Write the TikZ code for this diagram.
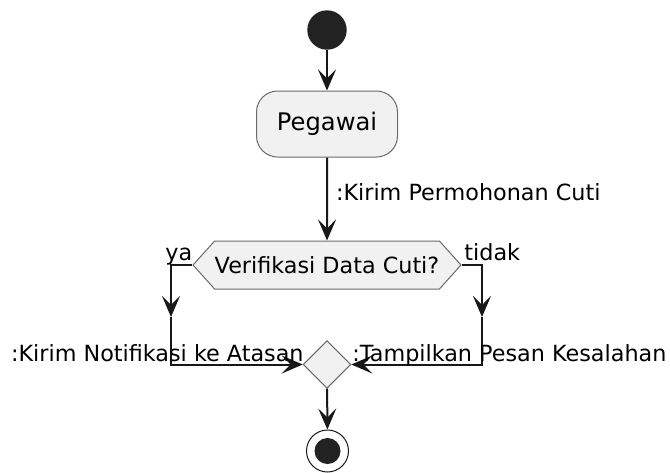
\documentclass[tikz,border=0pt]{standalone}
\usepackage{fontspec}
\setmainfont{DejaVu Sans}
\usetikzlibrary{arrows.meta,shapes.geometric,shapes.symbols}
\definecolor{ink}{HTML}{181818}
\definecolor{edge}{HTML}{6A6A6A}
\definecolor{actfill}{HTML}{F1F1F1}
\definecolor{dotfill}{HTML}{222222}
\newcommand{\lblfont}{\fontsize{11.15}{13}\selectfont}

\begin{document}
\begin{tikzpicture}[x=5pt,y=5pt,>={Stealth[length=10.5pt,width=9pt,inset=4.5pt]},
  flow/.style={->,draw=ink,line width=1pt},
  act/.style={draw=edge,line width=0.5pt,fill=actfill,rounded corners=10.5pt,minimum width=70.5pt,minimum height=33pt,inner sep=0pt,font=\fontsize{12.1}{14}\selectfont},
  choice/.style={shape=signal,signal to=west and east,signal pointer angle=96,draw=edge,line width=0.5pt,fill=actfill,minimum width=134pt,minimum height=24pt,inner sep=0pt,font=\lblfont},
  merge/.style={diamond,aspect=1,draw=edge,line width=0.5pt,fill=actfill,minimum size=23.8pt,inner sep=0pt},
  lbl/.style={font=\lblfont,inner sep=0pt}]
\useasboundingbox (0,0) rectangle (67,-47.2);
\node[circle,fill=dotfill,minimum size=19.7pt,inner sep=0pt] (start) at (32.7,-3.0) {};
\node[act] (pegawai) at (32.7,-12.4) {Pegawai};
\node[choice] (verif) at (32.7,-26.5) {Verifikasi Data Cuti?};
\node[merge] (join) at (32.7,-36.45) {};
\node[circle,draw=ink,line width=0.5pt,fill=white,minimum size=21pt,inner sep=0pt] (stop) at (32.75,-45.1) {};
\node[circle,fill=dotfill,minimum size=13pt,inner sep=0pt] (stopdot) at (stop) {};
% turning points of the two branches
\coordinate (yadown) at (17.1,-31.7);
\coordinate (tidakdown) at (48.2,-31.7);
\draw[flow] (start)--(pegawai);
\draw[flow] (pegawai)--(verif) node[lbl,anchor=base west] at (33.5,-20.0) {:Kirim Permohonan Cuti};
\draw[flow] (verif.west) -| (yadown);
\draw[flow] (yadown) |- (join.west);
\draw[flow] (verif.east) -| (tidakdown);
\draw[flow] (tidakdown) |- (join.east);
\draw[flow] (join)--(stop);
\node[lbl,anchor=base west] (ya) at (16.5,-26.0) {ya};
\node[lbl,anchor=base west] (tidak) at (46.4,-26.0) {tidak};
\node[lbl,anchor=base east] (notif) at (30.4,-36.1) {:Kirim Notifikasi ke Atasan};
\node[lbl,anchor=base west] (pesan) at (35.2,-36.1) {:Tampilkan Pesan Kesalahan};
\end{tikzpicture}
\end{document}
